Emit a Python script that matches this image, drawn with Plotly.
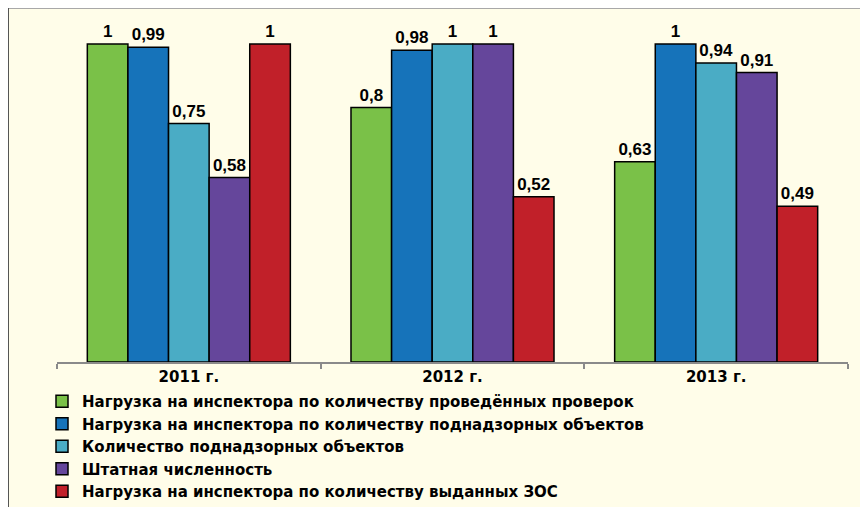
import plotly.graph_objects as go

categories = ["2011 г.", "2012 г.", "2013 г."]
series_names = [
    "Нагрузка на инспектора по количеству проведённых проверок",
    "Нагрузка на инспектора по количеству поднадзорных объектов",
    "Количество поднадзорных объектов",
    "Штатная численность",
    "Нагрузка на инспектора по количеству выданных ЗОС",
]
green_vals = [1.0, 0.80, 0.63]
blue_vals = [0.99, 0.98, 1.0]
cyan_vals = [0.75, 1.0, 0.94]
purple_vals = [0.58, 1.0, 0.91]
red_vals = [1.0, 0.52, 0.49]
series_values = [green_vals, blue_vals, cyan_vals, purple_vals, red_vals]
colors = ["#7AC148", "#1673BA", "#4AACC5", "#65469B", "#C12029"]


def fmt(v):
    s = ("%.2f" % v).rstrip("0").rstrip(".")
    return s.replace(".", ",")


fig = go.Figure()
for name, vals, col in zip(series_names, series_values, colors):
    fig.add_trace(go.Bar(
        x=categories, y=vals, name=name,
        marker=dict(color=col, line=dict(color="black", width=1.5)),
        text=[fmt(v) for v in vals], textposition="outside",
        textfont=dict(family="Liberation Sans", size=17, color="black", weight="bold"),
        cliponaxis=False,
    ))

# figure is drawn offset by the page's 8px body margin
W, H = 860, 499
L, R_EDGE, T, B_EDGE = 49, 840, 4, 354
pw = R_EDGE - L
ph = B_EDGE - T

fig.update_layout(
    width=W, height=H,
    margin=dict(l=L, r=W - R_EDGE, t=T, b=H - B_EDGE, pad=0, autoexpand=False),
    paper_bgcolor="#FFFDE9",
    plot_bgcolor="rgba(0,0,0,0)",
    barmode="group", bargap=0.23, bargroupgap=0,
    showlegend=True,
    legend=dict(
        orientation="v", xref="container", yref="container",
        x=34 / W, xanchor="left",
        y=1 - 377 / H, yanchor="top",
        font=dict(family="DejaVu Sans", size=15, color="black", weight="bold"),
        bgcolor="rgba(0,0,0,0)", tracegroupgap=0,
    ),
    xaxis=dict(
        showline=True, linecolor="#8a8a8a", linewidth=2,
        ticks="outside", tickson="boundaries", ticklen=5, tickcolor="#8a8a8a", tickwidth=2,
        tickfont=dict(family="DejaVu Sans", size=15, color="black", weight="bold"),
        showgrid=False, zeroline=False,
    ),
    yaxis=dict(range=[0, ph / 318], visible=False, showgrid=False, zeroline=False),
    shapes=[
        dict(type="line", xref="paper", yref="paper", x0=-L / pw, x1=(W - L) / pw,
             y0=(B_EDGE) / ph, y1=(B_EDGE) / ph, line=dict(color="#A8A8A8", width=2)),
        dict(type="line", xref="paper", yref="paper", x0=-L / pw, x1=-L / pw,
             y0=(B_EDGE - H) / ph, y1=B_EDGE / ph, line=dict(color="#555555", width=2)),
    ],
)

fig.write_html("out.html")
